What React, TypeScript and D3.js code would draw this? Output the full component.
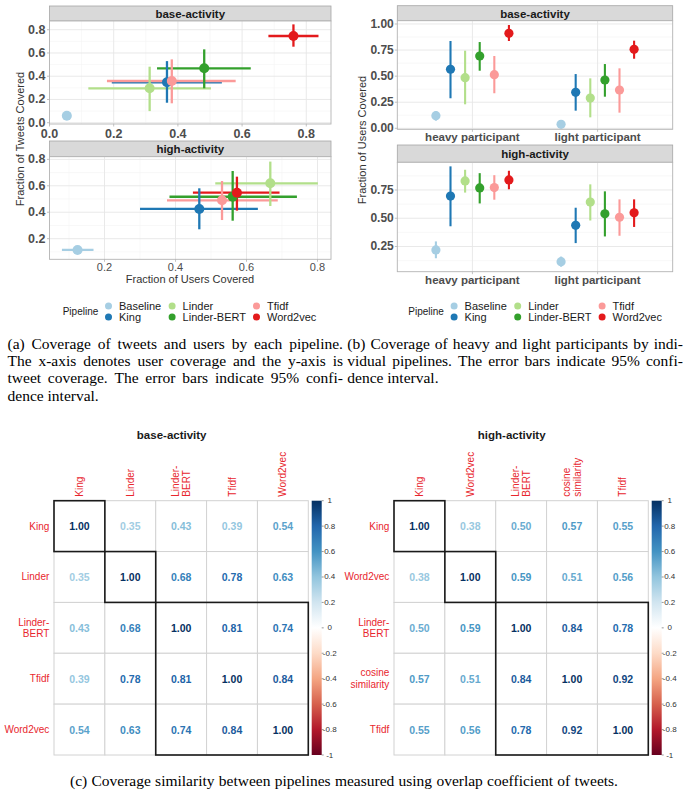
import React from 'react';
import * as d3 from 'd3';

const SANS = "'Liberation Sans', Arial, Helvetica, sans-serif";
const SERIF = "'Liberation Serif', 'Times New Roman', Times, serif";

// ---------- shared ----------
const pipelines = ['Baseline', 'King', 'Linder', 'Linder-BERT', 'Tfidf', 'Word2vec'];
const pipelineColors = ['#A6CEE3', '#1F78B4', '#B2DF8A', '#33A02C', '#FB9A99', '#E31A1C'];

// ---------- (a) x = fraction of users covered, y = fraction of tweets covered ----------
const aBaseX = [0.054, 0.366, 0.312, 0.482, 0.381, 0.76];
const aBaseXLo = [0.046, 0.194, 0.121, 0.335, 0.179, 0.682];
const aBaseXHi = [0.062, 0.537, 0.503, 0.627, 0.58, 0.838];
const aBaseY = [0.06, 0.348, 0.296, 0.468, 0.359, 0.746];
const aBaseYLo = [0.052, 0.172, 0.1, 0.296, 0.167, 0.654];
const aBaseYHi = [0.068, 0.53, 0.482, 0.631, 0.545, 0.846];

const aHighX = [0.124, 0.467, 0.667, 0.561, 0.531, 0.573];
const aHighXLo = [0.08, 0.3, 0.512, 0.383, 0.376, 0.449];
const aHighXHi = [0.169, 0.632, 0.801, 0.742, 0.688, 0.693];
const aHighY = [0.115, 0.425, 0.619, 0.517, 0.49, 0.548];
const aHighYLo = [0.1, 0.271, 0.447, 0.336, 0.341, 0.412];
const aHighYHi = [0.13, 0.581, 0.783, 0.712, 0.636, 0.669];

const aBaseTicksX = [0, 0.2, 0.4, 0.6, 0.8];
const aBaseTicksY = [0, 0.2, 0.4, 0.6, 0.8];
const aHighTicksX = [0.2, 0.4, 0.6, 0.8];
const aHighTicksY = [0.2, 0.4, 0.6, 0.8];

// ---------- (b) fraction of users covered by participant type ----------
const participantTypes = ['heavy participant', 'light participant'];
const bBaseHeavy = [0.121, 0.566, 0.485, 0.693, 0.514, 0.911];
const bBaseHeavyLo = [0.073, 0.288, 0.23, 0.552, 0.336, 0.837];
const bBaseHeavyHi = [0.166, 0.837, 0.744, 0.827, 0.693, 0.99];
const bBaseLight = [0.038, 0.345, 0.29, 0.463, 0.367, 0.757];
const bBaseLightLo = [0.03, 0.169, 0.105, 0.303, 0.15, 0.667];
const bBaseLightHi = [0.046, 0.52, 0.479, 0.616, 0.575, 0.84];
const bHighHeavy = [0.22, 0.696, 0.83, 0.768, 0.771, 0.839];
const bHighHeavyLo = [0.146, 0.429, 0.727, 0.631, 0.664, 0.756];
const bHighHeavyHi = [0.295, 0.959, 0.929, 0.899, 0.881, 0.92];
const bHighLight = [0.116, 0.4375, 0.643, 0.539, 0.509, 0.548];
const bHighLightLo = [0.071, 0.28, 0.48, 0.339, 0.345, 0.423];
const bHighLightHi = [0.161, 0.593, 0.8, 0.738, 0.667, 0.667];

const bBaseTicksY = [0, 0.25, 0.5, 0.75, 1];
const bHighTicksY = [0.25, 0.5, 0.75];

// ---------- (c) overlap coefficient matrices ----------
const simBaseLabels = ['King', 'Linder', 'Linder-BERT', 'Tfidf', 'Word2vec'];
const simBaseValues = [
  [1.0, 0.35, 0.43, 0.39, 0.54],
  [0.35, 1.0, 0.68, 0.78, 0.63],
  [0.43, 0.68, 1.0, 0.81, 0.74],
  [0.39, 0.78, 0.81, 1.0, 0.84],
  [0.54, 0.63, 0.74, 0.84, 1.0],
];
const simHighLabels = ['King', 'Word2vec', 'Linder-BERT', 'cosine similarity', 'Tfidf'];
const simHighValues = [
  [1.0, 0.38, 0.5, 0.57, 0.55],
  [0.38, 1.0, 0.59, 0.51, 0.56],
  [0.5, 0.59, 1.0, 0.84, 0.78],
  [0.57, 0.51, 0.84, 1.0, 0.92],
  [0.55, 0.56, 0.78, 0.92, 1.0],
];
const simClusters = [1, 1, 3];
const colorbarTicks = [1, 0.8, 0.6, 0.4, 0.2, 0, -0.2, -0.4, -0.6, -0.8, -1];
const rdbuStops = ['#67001F', '#B2182B', '#D6604D', '#F4A582', '#FDDBC7', '#FFFFFF', '#D1E5F0', '#92C5DE', '#4393C3', '#2166AC', '#053061'];

// ---------- captions ----------
const captionA = [
  '(a) Coverage of tweets and users by each pipeline.',
  'The x-axis denotes user coverage and the y-axis is',
  'tweet coverage. The error bars indicate 95% confi-',
  'dence interval.',
];
const captionB = [
  '(b) Coverage of heavy and light participants by indi-',
  'vidual pipelines. The error bars indicate 95% confi-',
  'dence interval.',
];
const captionC = '(c) Coverage similarity between pipelines measured using overlap coefficient of tweets.';

const corrColor = d3
  .scaleLinear<string>()
  .domain(d3.range(rdbuStops.length).map((i) => -1 + (2 * i) / (rdbuStops.length - 1)))
  .range(rdbuStops)
  .interpolate(d3.interpolateRgb);

function minorsOf(major: number[], domain: [number, number]) {
  const s = major[1] - major[0];
  const out: number[] = [];
  const all = [major[0] - s, ...major];
  all.forEach((v) => {
    const m = v + s / 2;
    if (m > Math.min(...domain) && m < Math.max(...domain)) out.push(m);
  });
  return out;
}

const GRID_MAJOR = '#e6e6e6';
const GRID_MINOR = '#f3f3f3';
const AXIS_TEXT = '#4d4d4d';

function Strip({ left, right, top, bottom, label }: any) {
  return (
    <g>
      <rect x={left} y={top} width={right - left} height={bottom - top} fill="#d9d9d9" stroke="#a6a6a6" strokeWidth={0.8} />
      <text x={(left + right) / 2} y={(top + bottom) / 2 + 0.5} textAnchor="middle" dominantBaseline="central" fontSize={11.5} fontWeight="bold" fill="#1a1a1a">
        {label}
      </text>
    </g>
  );
}

function ScatterFacet(p: any) {
  const x = d3.scaleLinear().domain(p.xDomain).range([p.left, p.right]);
  const y = d3.scaleLinear().domain(p.yDomain).range([p.bottom, p.top]);
  const fmt = d3.format('.1f');
  const xMinor = minorsOf(p.xTicks, p.xDomain);
  const yMinor = minorsOf(p.yTicks, p.yDomain);
  const idx = d3.range(pipelines.length);
  return (
    <g>
      <Strip left={p.left} right={p.right} top={p.stripTop} bottom={p.top} label={p.title} />
      <rect x={p.left} y={p.top} width={p.right - p.left} height={p.bottom - p.top} fill="#fff" />
      {xMinor.map((v) => (
        <line key={'xm' + v} x1={x(v)} x2={x(v)} y1={p.top} y2={p.bottom} stroke={GRID_MINOR} strokeWidth={0.6} />
      ))}
      {yMinor.map((v) => (
        <line key={'ym' + v} y1={y(v)} y2={y(v)} x1={p.left} x2={p.right} stroke={GRID_MINOR} strokeWidth={0.6} />
      ))}
      {p.xTicks.map((v: number) => (
        <line key={'xg' + v} x1={x(v)} x2={x(v)} y1={p.top} y2={p.bottom} stroke={GRID_MAJOR} strokeWidth={0.9} />
      ))}
      {p.yTicks.map((v: number) => (
        <line key={'yg' + v} y1={y(v)} y2={y(v)} x1={p.left} x2={p.right} stroke={GRID_MAJOR} strokeWidth={0.9} />
      ))}
      {idx.map((i) => (
        <line key={'h' + i} x1={x(p.xlo[i])} x2={x(p.xhi[i])} y1={y(p.y[i])} y2={y(p.y[i])} stroke={pipelineColors[i]} strokeWidth={2.3} />
      ))}
      {idx.map((i) => (
        <line key={'v' + i} x1={x(p.x[i])} x2={x(p.x[i])} y1={y(p.ylo[i])} y2={y(p.yhi[i])} stroke={pipelineColors[i]} strokeWidth={2.3} />
      ))}
      {idx.map((i) => (
        <circle key={'c' + i} cx={x(p.x[i])} cy={y(p.y[i])} r={5} fill={pipelineColors[i]} />
      ))}
      <rect x={p.left} y={p.top} width={p.right - p.left} height={p.bottom - p.top} fill="none" stroke="#b3b3b3" strokeWidth={0.9} />
      {p.yTicks.map((v: number) => (
        <g key={'yt' + v}>
          <line x1={p.left - 2.5} x2={p.left} y1={y(v)} y2={y(v)} stroke="#b3b3b3" strokeWidth={0.8} />
          <text x={p.left - 4} y={y(v)} textAnchor="end" dominantBaseline="central" fontSize={12.5} fontWeight="bold" fill={AXIS_TEXT}>
            {fmt(v)}
          </text>
        </g>
      ))}
      {p.xTicks.map((v: number) => (
        <g key={'xt' + v}>
          <line x1={x(v)} x2={x(v)} y1={p.bottom} y2={p.bottom + 2.5} stroke="#b3b3b3" strokeWidth={0.8} />
          <text x={x(v)} y={p.bottom + p.xLabelOffset} textAnchor="middle" dominantBaseline="central" fontSize={p.xLabelSize} fontWeight={p.xLabelBold ? 'bold' : 'normal'} fill={AXIS_TEXT}>
            {fmt(v)}
          </text>
        </g>
      ))}
    </g>
  );
}

function DodgeFacet(p: any) {
  const x = d3.scalePoint<string>().domain(participantTypes).range([p.left, p.right]).padding(0.6);
  const dodge = d3.scaleBand<string>().domain(pipelines).range([-0.35 * x.step(), 0.35 * x.step()]);
  const y = d3.scaleLinear().domain(p.yDomain).range([p.bottom, p.top]);
  const fmt = d3.format('.2f');
  const yMinor = minorsOf(p.yTicks, p.yDomain);
  const series = [
    { type: participantTypes[0], v: p.heavy, lo: p.heavyLo, hi: p.heavyHi },
    { type: participantTypes[1], v: p.light, lo: p.lightLo, hi: p.lightHi },
  ];
  const px = (t: string, name: string) => (x(t) as number) + (dodge(name) as number) + dodge.bandwidth() / 2;
  return (
    <g>
      <Strip left={p.left} right={p.right} top={p.stripTop} bottom={p.top} label={p.title} />
      <rect x={p.left} y={p.top} width={p.right - p.left} height={p.bottom - p.top} fill="#fff" />
      {yMinor.map((v) => (
        <line key={'ym' + v} y1={y(v)} y2={y(v)} x1={p.left} x2={p.right} stroke={GRID_MINOR} strokeWidth={0.6} />
      ))}
      {participantTypes.map((t) => (
        <line key={'xg' + t} x1={x(t)} x2={x(t)} y1={p.top} y2={p.bottom} stroke={GRID_MAJOR} strokeWidth={0.9} />
      ))}
      {p.yTicks.map((v: number) => (
        <line key={'yg' + v} y1={y(v)} y2={y(v)} x1={p.left} x2={p.right} stroke={GRID_MAJOR} strokeWidth={0.9} />
      ))}
      {series.map((s) =>
        pipelines.map((name, i) => (
          <line key={s.type + name + 'e'} x1={px(s.type, name)} x2={px(s.type, name)} y1={y(s.lo[i])} y2={y(s.hi[i])} stroke={pipelineColors[i]} strokeWidth={2.1} />
        ))
      )}
      {series.map((s) =>
        pipelines.map((name, i) => (
          <circle key={s.type + name + 'p'} cx={px(s.type, name)} cy={y(s.v[i])} r={4.6} fill={pipelineColors[i]} />
        ))
      )}
      <rect x={p.left} y={p.top} width={p.right - p.left} height={p.bottom - p.top} fill="none" stroke="#b3b3b3" strokeWidth={0.9} />
      {p.yTicks.map((v: number) => (
        <g key={'yt' + v}>
          <line x1={p.left - 2.5} x2={p.left} y1={y(v)} y2={y(v)} stroke="#b3b3b3" strokeWidth={0.8} />
          <text x={p.left - 3.5} y={y(v)} textAnchor="end" dominantBaseline="central" fontSize={12} fontWeight="bold" fill={AXIS_TEXT}>
            {fmt(v)}
          </text>
        </g>
      ))}
      {participantTypes.map((t) => (
        <g key={'xt' + t}>
          <line x1={x(t)} x2={x(t)} y1={p.bottom} y2={p.bottom + 2.5} stroke="#b3b3b3" strokeWidth={0.8} />
          <text x={x(t)} y={p.bottom + 8} textAnchor="middle" dominantBaseline="central" fontSize={11.5} fontWeight="bold" fill={AXIS_TEXT}>
            {t}
          </text>
        </g>
      ))}
    </g>
  );
}

function Legend({ x0, y1, y2 }: { x0: number; y1: number; y2: number }) {
  const colDot = [45.8, 109.4, 193.8];
  return (
    <g>
      <text x={x0} y={(y1 + y2) / 2} dominantBaseline="central" fontSize={10} fill="#1a1a1a">
        Pipeline
      </text>
      {pipelines.map((name, i) => {
        const col = Math.floor(i / 2);
        const row = i % 2;
        const cy = row === 0 ? y1 : y2;
        const cx = x0 + colDot[col];
        return (
          <g key={name}>
            <circle cx={cx} cy={cy} r={3.5} fill={pipelineColors[i]} />
            <text x={cx + 10.5} y={cy} dominantBaseline="central" fontSize={11} fill="#1a1a1a">
              {name}
            </text>
          </g>
        );
      })}
    </g>
  );
}

function splitLabel(s: string): string[] {
  if (s.includes(' ')) return s.split(' ');
  const h = s.indexOf('-');
  if (h > 0 && s.length > 8) return [s.slice(0, h + 1), s.slice(h + 1)];
  return [s];
}

function CorrHeatmap(p: any) {
  const n = p.labels.length;
  const band = d3.scaleBand<number>().domain(d3.range(n)).range([0, n * p.cell]);
  const barY = d3.scaleLinear().domain([-1, 1]).range([p.y0 + n * p.cell, p.y0]);
  const red = '#E8262E';
  const lh = 11.5;
  const starts: number[] = [];
  simClusters.reduce((acc: number, c: number) => {
    starts.push(acc);
    return acc + c;
  }, 0);
  return (
    <g>
      <defs>
        <linearGradient id={p.gid} x1="0" y1="1" x2="0" y2="0">
          {rdbuStops.map((c, i) => (
            <stop key={i} offset={i / (rdbuStops.length - 1)} stopColor={c} />
          ))}
        </linearGradient>
      </defs>
      <text x={p.titleX} y={p.titleY} textAnchor="middle" dominantBaseline="central" fontSize={11.5} fontWeight="bold" fill="#1a1a1a">
        {p.title}
      </text>
      {p.labels.map((lab: string, j: number) => {
        const lines = splitLabel(lab);
        const cx = p.x0 + (band(j) as number) + band.bandwidth() / 2;
        return lines.map((ln, k) => (
          <text
            key={'c' + j + k}
            transform={`translate(${cx + (k - (lines.length - 1) / 2) * lh},${p.y0 - 4}) rotate(-90)`}
            textAnchor="start"
            dominantBaseline="central"
            fontSize={10}
            fill={red}
          >
            {ln}
          </text>
        ));
      })}
      {p.labels.map((lab: string, i: number) => {
        const lines = splitLabel(lab);
        const cy = p.y0 + (band(i) as number) + band.bandwidth() / 2;
        return lines.map((ln, k) => (
          <text key={'r' + i + k} x={p.x0 - 4.7} y={cy + (k - (lines.length - 1) / 2) * lh} textAnchor="end" dominantBaseline="central" fontSize={10} fill={red}>
            {ln}
          </text>
        ));
      })}
      {p.values.map((row: number[], i: number) =>
        row.map((v, j) => (
          <rect key={'g' + i + j} x={p.x0 + (band(j) as number)} y={p.y0 + (band(i) as number)} width={band.bandwidth()} height={band.bandwidth()} fill="#fff" stroke="#d2d2d2" strokeWidth={1} />
        ))
      )}
      {p.values.map((row: number[], i: number) =>
        row.map((v, j) => (
          <text
            key={'t' + i + j}
            x={p.x0 + (band(j) as number) + band.bandwidth() / 2}
            y={p.y0 + (band(i) as number) + band.bandwidth() / 2}
            textAnchor="middle"
            dominantBaseline="central"
            fontSize={10.5}
            fontWeight="bold"
            fill={corrColor(v)}
          >
            {v.toFixed(2)}
          </text>
        ))
      )}
      {simClusters.map((c, k) => (
        <rect key={'k' + k} x={p.x0 + (band(starts[k]) as number)} y={p.y0 + (band(starts[k]) as number)} width={c * p.cell} height={c * p.cell} fill="none" stroke="#1a1a1a" strokeWidth={1.6} />
      ))}
      <rect x={p.barX} y={barY(1)} width={10} height={barY(-1) - barY(1)} fill={`url(#${p.gid})`} />
      {colorbarTicks.map((t) => (
        <g key={'cb' + t}>
          <line x1={p.barX + 10} x2={p.barX + 12} y1={barY(t)} y2={barY(t)} stroke="#555" strokeWidth={0.6} />
          <text x={p.barX + 18} y={barY(t)} textAnchor="middle" dominantBaseline="central" fontSize={8} fill="#333">
            {String(t)}
          </text>
        </g>
      ))}
    </g>
  );
}

let measureCtx: CanvasRenderingContext2D | null = null;
function measure(text: string, font: string) {
  if (!measureCtx) measureCtx = document.createElement('canvas').getContext('2d');
  if (!measureCtx) return text.length * 7;
  measureCtx.font = font;
  return measureCtx.measureText(text).width;
}

function JustifiedLine({ text, x, width, y, fs }: { text: string; x: number; width: number; y: number; fs: number }) {
  const font = `${fs}px 'Liberation Serif'`;
  const words = text.split(' ');
  const ws = words.map((w) => measure(w, font));
  const gap = Math.max(2.5, (width - d3.sum(ws)) / Math.max(1, words.length - 1));
  let cur = x;
  const xs = ws.map((w) => {
    const v = cur;
    cur += w + gap;
    return v;
  });
  return (
    <text y={y}>
      {words.map((w, i) => (
        <tspan key={i} x={xs[i]}>
          {w}
        </tspan>
      ))}
    </text>
  );
}

function Paragraph({ lines, x, width, y0, lh, fs }: { lines: string[]; x: number; width: number; y0: number; lh: number; fs: number }) {
  return (
    <g fontFamily={SERIF} fontSize={fs} fill="#000">
      {lines.map((line, li) => {
        const y = y0 + li * lh;
        if (li === lines.length - 1) {
          return (
            <text key={li} x={x} y={y}>
              {line}
            </text>
          );
        }
        return <JustifiedLine key={li} text={line} x={x} width={width} y={y} fs={fs} />;
      })}
    </g>
  );
}

export default function App() {
  return (
    <svg width={685} height={794} viewBox="0 0 685 794" style={{ position: 'absolute', left: 0, top: 0, display: 'block' }} fontFamily={SANS}>
      <rect width={685} height={794} fill="#fff" />

      {/* (a) */}
      <ScatterFacet
        title="base-activity"
        left={49.5}
        right={331}
        stripTop={6}
        top={21}
        bottom={124}
        xDomain={[0, 0.877]}
        yDomain={[-0.011, 0.875]}
        xTicks={aBaseTicksX}
        yTicks={aBaseTicksY}
        x={aBaseX}
        xlo={aBaseXLo}
        xhi={aBaseXHi}
        y={aBaseY}
        ylo={aBaseYLo}
        yhi={aBaseYHi}
        xLabelBold={true}
        xLabelSize={12.5}
        xLabelOffset={9.5}
      />
      <ScatterFacet
        title="high-activity"
        left={49.5}
        right={331}
        stripTop={141}
        top={156.7}
        bottom={259.3}
        xDomain={[0.045, 0.838]}
        yDomain={[0.044, 0.82]}
        xTicks={aHighTicksX}
        yTicks={aHighTicksY}
        x={aHighX}
        xlo={aHighXLo}
        xhi={aHighXHi}
        y={aHighY}
        ylo={aHighYLo}
        yhi={aHighYHi}
        xLabelBold={false}
        xLabelSize={11}
        xLabelOffset={8}
      />
      <text transform="translate(20,139) rotate(-90)" textAnchor="middle" dominantBaseline="central" fontSize={11} fill="#333">
        Fraction of Tweets Covered
      </text>
      <text x={190} y={279} textAnchor="middle" dominantBaseline="central" fontSize={11} fill="#333">
        Fraction of Users Covered
      </text>
      <Legend x0={62.7} y1={306} y2={317} />

      {/* (b) */}
      <DodgeFacet
        title="base-activity"
        left={397.3}
        right={672.7}
        stripTop={5.7}
        top={20.7}
        bottom={129.3}
        yDomain={[-0.0096, 1.0316]}
        yTicks={bBaseTicksY}
        heavy={bBaseHeavy}
        heavyLo={bBaseHeavyLo}
        heavyHi={bBaseHeavyHi}
        light={bBaseLight}
        lightLo={bBaseLightLo}
        lightHi={bBaseLightHi}
      />
      <DodgeFacet
        title="high-activity"
        left={397.3}
        right={672.7}
        stripTop={145}
        top={162.3}
        bottom={271.7}
        yDomain={[0.027, 0.995]}
        yTicks={bHighTicksY}
        heavy={bHighHeavy}
        heavyLo={bHighHeavyLo}
        heavyHi={bHighHeavyHi}
        light={bHighLight}
        lightLo={bHighLightLo}
        lightHi={bHighLightHi}
      />
      <text transform="translate(361.7,140) rotate(-90)" textAnchor="middle" dominantBaseline="central" fontSize={11} fill="#333">
        Fraction of Users Covered
      </text>
      <Legend x0={408.3} y1={306} y2={317} />

      {/* captions a, b */}
      <Paragraph lines={captionA} x={7.5} width={335.5} y0={349} lh={17.2} fs={15.5} />
      <Paragraph lines={captionB} x={347.3} width={335.7} y0={349} lh={17.2} fs={15.5} />

      {/* (c) */}
      <CorrHeatmap
        gid="cbBase"
        title="base-activity"
        titleX={171.7}
        titleY={435}
        x0={54}
        y0={500.7}
        cell={50.86}
        labels={simBaseLabels}
        values={simBaseValues}
        barX={311.7}
      />
      <CorrHeatmap
        gid="cbHigh"
        title="high-activity"
        titleX={511.7}
        titleY={435}
        x0={394}
        y0={500.7}
        cell={50.86}
        labels={simHighLabels}
        values={simHighValues}
        barX={651.7}
      />
      <g fontFamily={SERIF} fontSize={15.5} fill="#000">
        <JustifiedLine text={captionC} x={70} width={548} y={786} fs={15.5} />
      </g>
    </svg>
  );
}
